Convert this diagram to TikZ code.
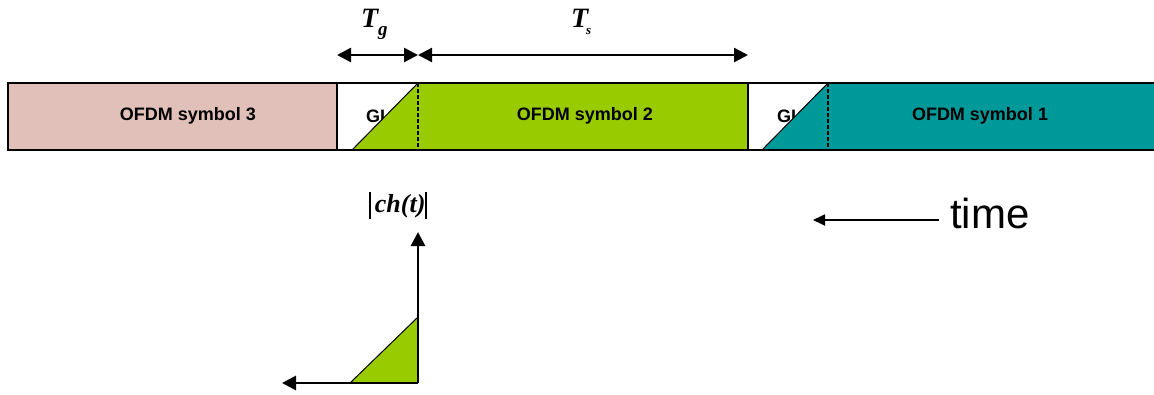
\documentclass[tikz,border=0pt]{standalone}
\usepackage{fontspec}
\setmainfont{Liberation Serif}
\setsansfont{Liberation Sans}
\usetikzlibrary{arrows.meta}
\definecolor{pinkc}{HTML}{E0C0B8}
\definecolor{greenc}{HTML}{99CC00}
\definecolor{tealc}{HTML}{009999}
\begin{document}
\begin{tikzpicture}[x=1pt,y=-1pt,
  lbl/.style={font=\sffamily\bfseries\fontsize{18}{20}\selectfont, inner sep=0pt},
  gilbl/.style={font=\sffamily\bfseries\fontsize{18}{20}\selectfont, inner sep=0pt, anchor=west},
  mlbl/.style={font=\rmfamily\bfseries\itshape\fontsize{28}{30}\selectfont, inner sep=0pt},
  sublbl/.style={font=\rmfamily\bfseries\itshape\fontsize{19}{20}\selectfont, inner sep=0pt},
  darr/.style={line width=2.4pt, {Triangle[length=14pt,width=14pt]}-{Triangle[length=14pt,width=14pt]}},
  axarr/.style={line width=2.8pt, -{Triangle[length=14pt,width=14pt]}},
  tarr/.style={line width=1.8pt, -{Triangle[length=12pt,width=11pt]}},
  guard/.style={line width=1.5pt, dash pattern=on 4pt off 2pt},
  hyp/.style={line width=1pt},
]
\useasboundingbox (0,0) rectangle (1154,394);

% blocks
\fill[pinkc] (8,83) rectangle (337,150);
\fill[white] (337,83) rectangle (418,150);
\fill[greenc] (418,83) rectangle (748,150);
\fill[white] (748,83) rectangle (828,150);
\fill[tealc] (828,83) rectangle (1154,150);

% labels
\node[lbl] (s3) at (188,116) {OFDM symbol 3};
\node[lbl] (s2) at (585,116) {OFDM symbol 2};
\node[lbl] (s1) at (980,116) {OFDM symbol 1};
\node[gilbl] (gi1) at (366,116) {GI};
\node[gilbl] (gi2) at (777,116) {GI};

% cyclic-prefix triangles
\fill[greenc] (352,150) -- (418,83) -- (418,150) -- cycle;
\draw[hyp] (352,150) -- (418,83);
\fill[tealc] (762,150) -- (828,83) -- (828,150) -- cycle;
\draw[hyp] (762,150) -- (828,83);

% separators
\draw[line width=1.2pt] (337,83) -- (337,150);
\draw[line width=1.2pt] (748,83) -- (748,150);
\draw[guard] (418,83) -- (418,150);
\draw[guard] (828,83) -- (828,150);

% outline
\draw[line width=2.2pt] (1154,83) -- (8,83) -- (8,150) -- (1154,150);

% duration arrows
\coordinate (ga) at (337,55);
\coordinate (gb) at (418,55);
\coordinate (sb) at (748,55);
\draw[darr] (ga) -- (gb);
\draw[darr] (gb) -- (sb);
\node[mlbl, anchor=base west] (tg) at (361,27) {T};
\node[sublbl, anchor=base west] (tgs) at (378,35) {g};
\node[mlbl, anchor=base west] (ts) at (571,27) {T};
\node[sublbl, anchor=base west] (tss) at (586,34) {\fontsize{13}{13}\selectfont s};

% channel impulse response
\node[font=\rmfamily\bfseries\itshape\fontsize{26}{28}\selectfont, inner sep=0pt] (ch) at (398,205)
  {\rule[-6pt]{1.8pt}{27pt}\,ch(t)\rule[-6pt]{1.8pt}{27pt}};
\coordinate (o) at (418,383);
\coordinate (yt) at (418,232);
\coordinate (xt) at (282,383);
\fill[greenc] (350,383) -- (418,317) -- (418,383) -- cycle;
\draw[hyp] (350,383) -- (418,317);
\draw[axarr] (o) -- (yt);
\draw[axarr] (o) -- (xt);

% time arrow
\node[font=\sffamily\fontsize{42}{44}\selectfont, inner sep=0pt, anchor=base west] (time) at (950,228) {time};
\coordinate (ta) at (939,220);
\coordinate (tb) at (813,220);
\draw[tarr] (ta) -- (tb);
\end{tikzpicture}
\end{document}
